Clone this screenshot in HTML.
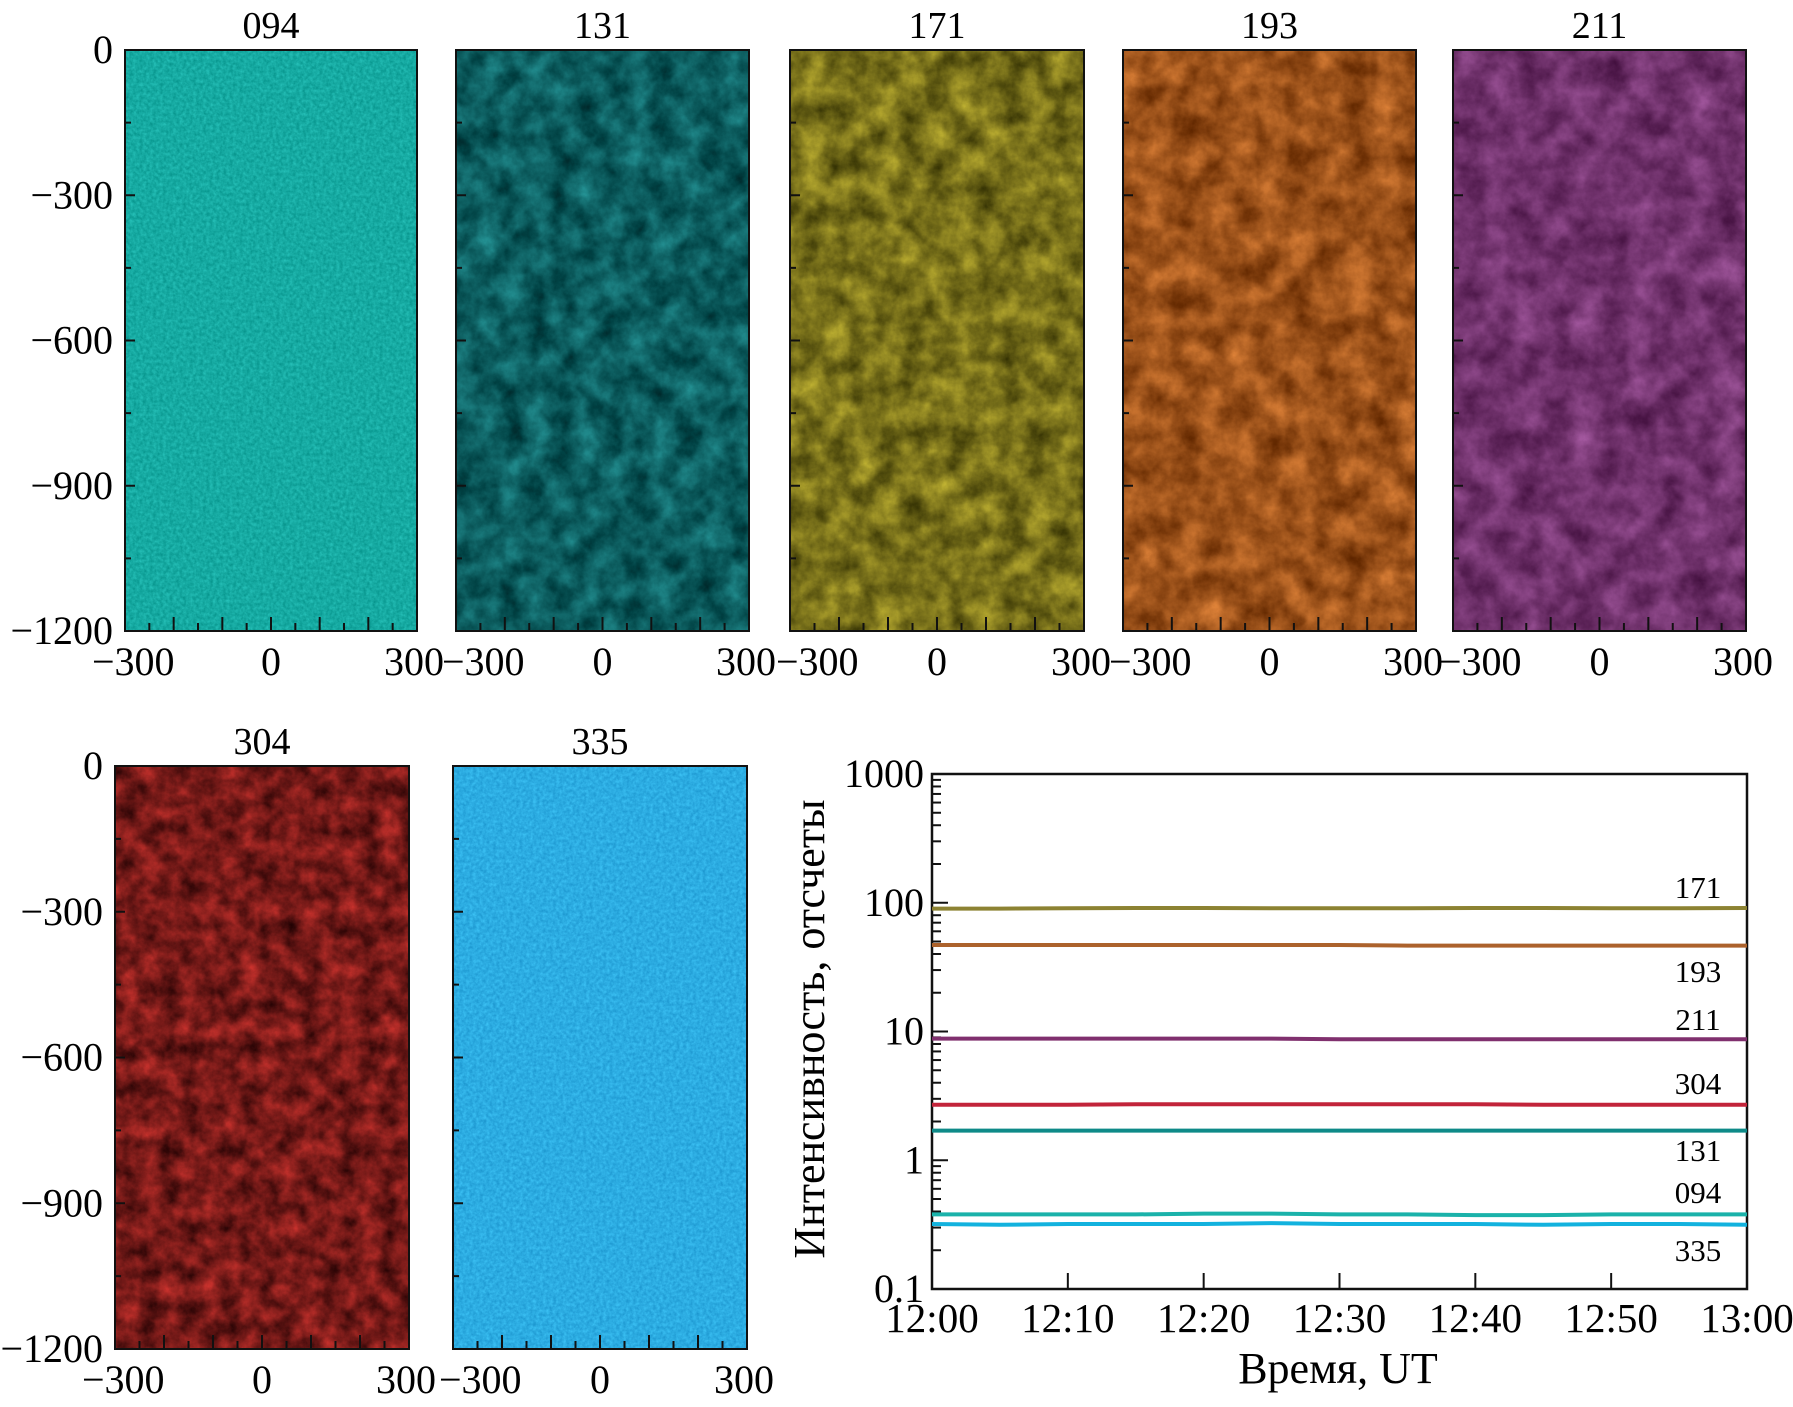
<!DOCTYPE html>
<html><head><meta charset="utf-8"><style>
html,body{margin:0;padding:0;background:#fff}
svg{display:block;font-family:"Liberation Serif",serif}
</style></head><body>
<svg id="fig" width="1793" height="1407" viewBox="0 0 1793 1407" xmlns="http://www.w3.org/2000/svg">
<defs id="defs"></defs>
<g id="panels"></g>
<g id="chart"></g>
</svg>
<script>
const NS="http://www.w3.org/2000/svg";
const panelNames=["094","131","171","193","211","304","335"];
const panelMean=[[22,170,162],[12,92,94],[120,112,26],[156,82,26],[112,50,108],[118,26,24],[44,172,226]];
const panelAmp=[[25,35,35],[40,90,90],[120,110,40],[110,80,50],[80,60,80],[140,40,35],[25,35,30]];
const panelK=[1.6,1.4,1.4,1.4,1.4,1.4,1.6];
const panelFreq=[0.3,0.04,0.04,0.035,0.035,0.05,0.3];
const panelBox=[[125,50,417,631],[456,50,749,631],[790,50,1084,631],[1123,50,1416,631],[1453,50,1746,631],[115,766,409,1349],[453,766,747,1349]];
const times=[0,5,10,15,20,25,30,35,40,45,50,55,60];
const seriesNames=["171","193","211","304","131","094","335"];
const s171=[90,90,90.5,91,91,90.5,90.5,90.5,91,91,90.5,90.5,91];
const s193=[47,47,47,47,47,47,47,46.5,46.5,46.5,46.5,46.5,46.5];
const s211=[8.8,8.8,8.8,8.8,8.8,8.8,8.7,8.7,8.7,8.7,8.7,8.7,8.7];
const s304=[2.7,2.7,2.7,2.72,2.72,2.72,2.72,2.72,2.72,2.7,2.7,2.7,2.7];
const s131=[1.7,1.7,1.7,1.7,1.7,1.7,1.7,1.7,1.7,1.7,1.7,1.7,1.7];
const s094=[0.38,0.38,0.38,0.38,0.385,0.385,0.38,0.38,0.375,0.375,0.38,0.38,0.38];
const s335=[0.32,0.315,0.32,0.32,0.32,0.325,0.32,0.32,0.32,0.315,0.32,0.32,0.315];
const seriesColors=["#8c8232","#ac622c","#80306e","#c2243a","#0e8a88","#1ab2aa","#12b2de"];
const seriesLabelY=[887,971,1019,1083,1150,1192,1250];
const yTicks=[1000,100,10,1,0.1];
const yTickLabels=["1000","100","10","1","0.1"];
const xTicks=[0,10,20,30,40,50,60];
const xTickLabels=["12:00","12:10","12:20","12:30","12:40","12:50","13:00"];
const imgYTicks=[0,-300,-600,-900,-1200];
const imgXTicks=[-300,0,300];

function el(tag,attrs,parent,text){const e=document.createElementNS(NS,tag);for(const k in attrs)e.setAttribute(k,attrs[k]);if(text!==undefined)e.textContent=text;parent.appendChild(e);return e;}
const defs=document.getElementById('defs');
const panels=document.getElementById('panels');
panelNames.forEach((nm,i)=>{
  const [x0,y0,x1,y1]=panelBox[i];const mu=panelMean[i],a=panelAmp[i];
  const f=el('filter',{id:'f'+i,x:'0',y:'0',width:'100%',height:'100%','color-interpolation-filters':'sRGB'},defs);
  el('feTurbulence',{type:'fractalNoise',baseFrequency:String(panelFreq[i]),numOctaves:'5',seed:String(i*7+3)},f);
  const m=[];const k=panelK[i];
  for(let c=0;c<3;c++){const row=[0,0,0,0,0];row[0]=(a[c]*k/255).toFixed(3);row[4]=((mu[c]-a[c]*k*0.5)/255).toFixed(3);m.push(row.join(' '));}
  m.push('0 0 0 0 1');
  el('feColorMatrix',{type:'matrix',values:m.join(' ')},f);
  const g=el('g',{},panels);
  
  
  el('rect',{x:x0,y:y0,width:x1-x0,height:y1-y0,filter:'url(#f'+i+')'},g);
  el('rect',{x:x0,y:y0,width:x1-x0,height:y1-y0,fill:'none',stroke:'#111','stroke-width':2},g);
  const t=el('text',{x:(x0+x1)/2,y:y0-12,'text-anchor':'middle','font-size':38},g,nm);
  
  
  const ys=v=>y0+(0-v)/1200*(y1-y0), xs=v=>x0+(v+300)/600*(x1-x0);
  for(let v=0;v>=-1200;v-=150){el('line',{x1:x0,x2:x0+(v%300==0?10:6),y1:ys(v),y2:ys(v),stroke:'#111','stroke-width':2},g);}
  for(let v=-300;v<=300;v+=50){el('line',{x1:xs(v),x2:xs(v),y1:y1,y2:y1-(v%100==0?14:8),stroke:'#111','stroke-width':2},g);}
  const firstInRow=(i==0||i==5);
  if(firstInRow){imgYTicks.forEach(v=>{const tl=el('text',{x:x0-12,y:ys(v)+13,'text-anchor':'end','font-size':40},g,v<0?'\u2212'+(-v):String(v));
    });}
  imgXTicks.forEach(v=>{const anc=v==-300?'start':(v==300?'end':'middle');const xx=v==-300?(firstInRow?x0-33:x0-14):(v==300?x1+27:xs(v));
    const tl=el('text',{x:xx,y:y1+44,'text-anchor':anc,'font-size':40},g,v<0?'\u2212'+(-v):String(v));
    });
});
const ch=document.getElementById('chart');
const L=932,R=1747,T=774,B=1289;
const X=t=>L+t/60*(R-L);
const Y=v=>B-(Math.log10(v)+1)/4*(B-T);
const frame=el('rect',{x:L,y:T,width:R-L,height:B-T,fill:'none',stroke:'#111','stroke-width':2.5},ch);

for(let dcd=-1;dcd<3;dcd++){for(let k=1;k<10;k++){const v=k*Math.pow(10,dcd);el('line',{x1:L,x2:L+(k==1?16:9),y1:Y(v),y2:Y(v),stroke:'#111','stroke-width':2},ch);}}
yTicks.forEach((v,i)=>{const t=el('text',{x:L-8,y:Y(v)+13,'text-anchor':'end','font-size':40},ch,yTickLabels[i]);
  });
xTicks.forEach((v,i)=>{el('line',{x1:X(v),x2:X(v),y1:B,y2:B-16,stroke:'#111','stroke-width':2},ch);
  const t=el('text',{x:X(v),y:B+43,'text-anchor':'middle','font-size':41},ch,xTickLabels[i]);
  });
const allSeries=[s171,s193,s211,s304,s131,s094,s335];
allSeries.forEach((s,i)=>{const pts=s.map((v,j)=>X(times[j]).toFixed(1)+','+Y(v).toFixed(1)).join(' ');
  const p=el('polyline',{points:pts,fill:'none',stroke:seriesColors[i],'stroke-width':4},ch);
  
  const t=el('text',{x:1698,y:seriesLabelY[i]+11,'text-anchor':'middle','font-size':31},ch,seriesNames[i]);
  });
const xt=el('text',{x:1338,y:1383,'text-anchor':'middle','font-size':44},ch,'Время, UT');

const yt=el('text',{x:0,y:0,'text-anchor':'middle','font-size':44,transform:'translate(824,1029) rotate(-90)'},ch,'Интенсивность, отсчеты');

</script>
</body></html>
